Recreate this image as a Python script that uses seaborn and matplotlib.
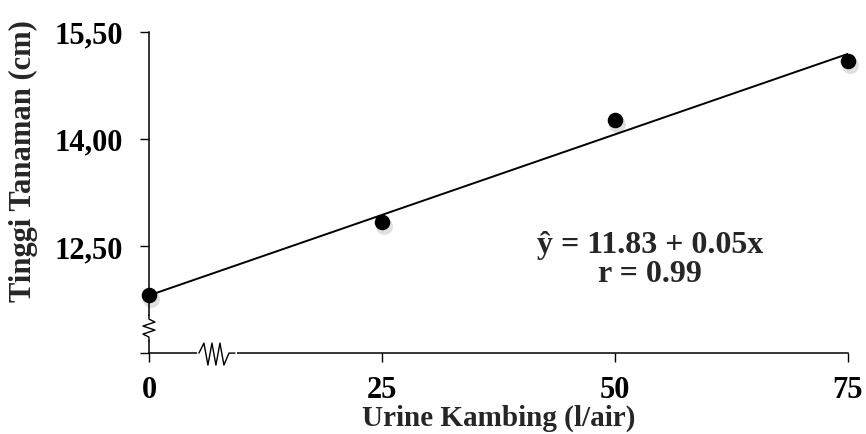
import numpy as np
import pandas as pd
import matplotlib
matplotlib.use("Agg")
import matplotlib.pyplot as plt
import matplotlib.transforms as mtransforms
import seaborn as sns

# data
dosis = [0, 25, 50, 75]
tinggi = [11.81, 12.83, 14.26, 15.09]
x_ticks = [0, 25, 50, 75]
x_tick_labels = ["0", "25", "50", "75"]
y_ticks = [11.0, 12.5, 14.0, 15.5]
y_tick_labels = ["", "12,50", "14,00", "15,50"]
persamaan = "ŷ = 11.83 + 0.05x\nr = 0.99"

sns.set_style("ticks")
plt.rcParams["font.family"] = ["Liberation Serif", "DejaVu Serif"]
plt.rcParams["font.weight"] = "bold"

df = pd.DataFrame({"dosis": dosis, "tinggi": tinggi})

fig = plt.figure(figsize=(8.66, 4.35), dpi=100)
ax = fig.add_axes([0.172, 0.186, 0.807, 0.739])

# soft shadow under the balls
shadow = mtransforms.offset_copy(ax.transData, fig=fig, x=2, y=-4, units="dots")
ax.scatter(dosis, tinggi, s=150, color="#d4d4d4", alpha=0.7, linewidths=0,
           transform=shadow, zorder=2, clip_on=False)

sns.regplot(data=df, x="dosis", y="tinggi", ax=ax, ci=None, color="black",
            scatter_kws=dict(s=125, alpha=1, zorder=4, clip_on=False, linewidths=0),
            line_kws=dict(lw=1.4, zorder=3))

ax.set_xlim(0, 75)
ax.set_ylim(11, 15.5)
ax.set_xticks(x_ticks, x_tick_labels)
ax.set_yticks(y_ticks, y_tick_labels)
ax.tick_params(labelsize=22, length=6.5, width=1, color="black", labelcolor="black")
ax.tick_params(axis="x", pad=9)
ax.tick_params(axis="y", pad=12)
sns.despine(ax=ax)
for side in ("left", "bottom"):
    ax.spines[side].set_linewidth(1.1)
    ax.spines[side].set_color("black")

ax.set_xlabel("Urine Kambing (l/air)", fontsize=21, fontweight="bold", labelpad=0)
ax.set_ylabel("Tinggi Tanaman (cm)", fontsize=22, fontweight="bold")
ax.yaxis.set_label_coords(-0.159, 0.60)

ax.text(53.8, 12.32, persamaan, ha="center", va="center", fontsize=23,
        fontweight="bold", linespacing=1.0)

# axis break marks (pixel offsets -> axes fractions)
W, H = 699.0, 321.3
ax.plot([0, 0], [15 / H, 35 / H], color="white", lw=3, transform=ax.transAxes,
        clip_on=False, zorder=5)
yb = [(0, 38), (0, 34), (6, 31), (-6, 27), (6, 23), (-6, 19), (0, 16), (0, 12)]
ax.plot([p[0] / W for p in yb], [p[1] / H for p in yb], color="black", lw=1,
        transform=ax.transAxes, clip_on=False, zorder=6)

ax.plot([50 / W, 86 / W], [0, 0], color="white", lw=3, transform=ax.transAxes,
        clip_on=False, zorder=5)
xb = [(50, 0), (55, 10), (59, -12), (63, 10), (67, -12), (71, 10), (75, -12), (80, 0), (86, 0)]
ax.plot([p[0] / W for p in xb], [p[1] / H for p in xb], color="black", lw=1,
        transform=ax.transAxes, clip_on=False, zorder=6)

fig.savefig("out.png", dpi=100)
